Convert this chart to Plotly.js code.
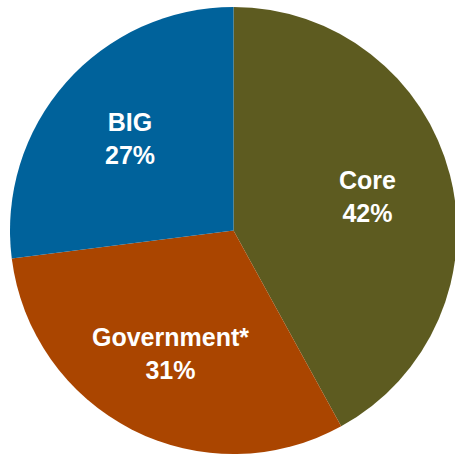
<!DOCTYPE html>
<html>
<head>
<meta charset="utf-8">
<script src="https://cdn.plot.ly/plotly-3.0.1.min.js"></script>
<style>html,body{margin:0;padding:0;overflow:hidden;background:#fff;}</style>
</head>
<body>
<div id="chart"></div>
<script>
const labels = ["Core", "Government*", "BIG"];
const values = [42, 31, 27];
const colors = ["#5D5B20", "#AA4500", "#00629B"];

const data = [{
  type: "pie",
  labels: labels,
  values: values,
  sort: false,
  direction: "clockwise",
  rotation: 0,
  marker: {colors: colors, line: {width: 0}},
  textinfo: "none",
  hoverinfo: "none",
  showlegend: false
}];

// Label positions derived from the slice mid-angles
const total = values.reduce((a, b) => a + b, 0);
const labelRadius = 0.62;
let cum = 0;
const annotations = labels.map((lab, i) => {
  const mid = (cum + values[i] / 2) / total * 2 * Math.PI;
  cum += values[i];
  return {
    xref: "paper", yref: "paper",
    x: 0.5 + 0.5 * labelRadius * Math.sin(mid),
    y: 0.5 + 0.5 * labelRadius * Math.cos(mid),
    text: lab + "<br>" + values[i] + "%",
    showarrow: false,
    xanchor: "center", yanchor: "middle",
    align: "center",
    font: {family: "Liberation Sans, Arial, sans-serif", size: 25, color: "#ffffff", weight: "bold"}
  };
});

const layout = {
  width: 457,
  height: 456,
  margin: {l: 10, r: 0, t: 7, b: 2, pad: 0},
  paper_bgcolor: "#ffffff",
  showlegend: false,
  annotations: annotations
};

Plotly.newPlot("chart", data, layout, {displayModeBar: false, staticPlot: true});
</script>
</body>
</html>
